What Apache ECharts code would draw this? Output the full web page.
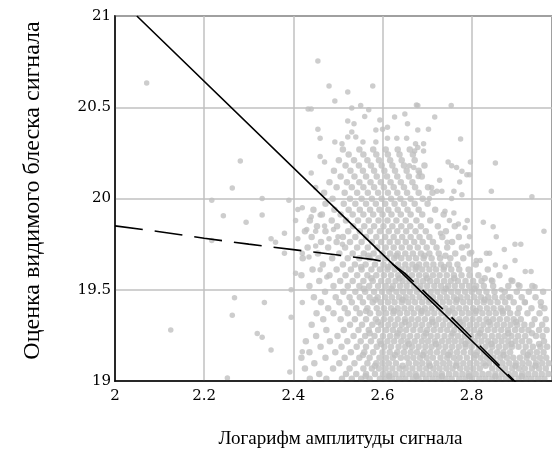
<!DOCTYPE html>
<html>
<head>
<meta charset="utf-8">
<script src="https://cdn.jsdelivr.net/npm/echarts@6/dist/echarts.min.js"></script>
<style>
  html, body { margin: 0; padding: 0; background: #fff; }
  #chart { width: 552px; height: 454px; }
</style>
</head>
<body>
<div id="chart"></div>
<script>
// x ticks / y ticks
const xTicks = [2, 2.2, 2.4, 2.6, 2.8]
const yTicks = [19, 19.5, 20, 20.5, 21]

// dense part of the cloud, read row by row (one y per row, x positions of dots)
const rowY = [19.012, 19.038, 19.069, 19.097, 19.128, 19.158, 19.187, 19.218, 19.247, 19.279,
  19.308, 19.339, 19.371, 19.398, 19.431, 19.459, 19.489, 19.521, 19.548, 19.579,
  19.611, 19.638, 19.672, 19.699, 19.731, 19.762, 19.789, 19.821, 19.848, 19.879,
  19.912, 19.938, 19.971, 19.998, 20.031, 20.062, 20.089, 20.121, 20.152, 20.181,
  20.209, 20.241, 20.268]
const rowX = [
  [2.437, 2.474, 2.509, 2.531, 2.552, 2.571, 2.594, 2.608, 2.622, 2.637, 2.651, 2.668, 2.681, 2.697, 2.712, 2.726, 2.741, 2.755, 2.772, 2.786, 2.801, 2.817, 2.831, 2.846, 2.861, 2.876, 2.889, 2.905, 2.921, 2.934, 2.949, 2.963],
  [2.458, 2.518, 2.541, 2.563, 2.583, 2.601, 2.615, 2.629, 2.645, 2.66, 2.674, 2.69, 2.705, 2.719, 2.733, 2.749, 2.764, 2.779, 2.793, 2.809, 2.824, 2.838, 2.853, 2.868, 2.883, 2.897, 2.913, 2.927, 2.942, 2.957, 2.972],
  [2.426, 2.489, 2.526, 2.557, 2.576, 2.592, 2.607, 2.622, 2.638, 2.652, 2.667, 2.683, 2.698, 2.714, 2.728, 2.743, 2.757, 2.774, 2.789, 2.803, 2.818, 2.846, 2.861, 2.875, 2.891, 2.906, 2.919, 2.935, 2.951, 2.966],
  [2.447, 2.503, 2.537, 2.566, 2.586, 2.6, 2.614, 2.63, 2.659, 2.675, 2.689, 2.704, 2.721, 2.736, 2.75, 2.766, 2.781, 2.796, 2.811, 2.826, 2.839, 2.855, 2.869, 2.884, 2.899, 2.914, 2.928, 2.944, 2.958, 2.973],
  [2.418, 2.472, 2.515, 2.548, 2.571, 2.593, 2.608, 2.623, 2.641, 2.655, 2.669, 2.684, 2.699, 2.713, 2.73, 2.745, 2.76, 2.773, 2.789, 2.805, 2.82, 2.834, 2.849, 2.864, 2.879, 2.893, 2.908, 2.923, 2.939, 2.953, 2.967],
  [2.436, 2.494, 2.529, 2.559, 2.579, 2.6, 2.616, 2.633, 2.648, 2.663, 2.677, 2.693, 2.707, 2.722, 2.737, 2.752, 2.767, 2.782, 2.798, 2.812, 2.827, 2.842, 2.857, 2.871, 2.886, 2.916, 2.931, 2.946, 2.961],
  [2.461, 2.508, 2.542, 2.563, 2.587, 2.604, 2.619, 2.636, 2.651, 2.666, 2.681, 2.696, 2.71, 2.726, 2.741, 2.756, 2.771, 2.786, 2.8, 2.816, 2.831, 2.846, 2.861, 2.876, 2.89, 2.905, 2.921, 2.937, 2.954, 2.969],
  [2.428, 2.482, 2.521, 2.551, 2.574, 2.594, 2.611, 2.626, 2.642, 2.656, 2.672, 2.688, 2.702, 2.717, 2.733, 2.748, 2.762, 2.777, 2.792, 2.807, 2.822, 2.837, 2.852, 2.867, 2.882, 2.898, 2.913, 2.929, 2.962],
  [2.451, 2.499, 2.535, 2.561, 2.582, 2.601, 2.617, 2.632, 2.647, 2.662, 2.678, 2.693, 2.708, 2.723, 2.739, 2.754, 2.769, 2.784, 2.799, 2.814, 2.829, 2.845, 2.86, 2.874, 2.889, 2.904, 2.92, 2.944, 2.959],
  [2.474, 2.513, 2.546, 2.569, 2.59, 2.608, 2.623, 2.639, 2.653, 2.669, 2.685, 2.7, 2.715, 2.73, 2.745, 2.761, 2.776, 2.791, 2.806, 2.821, 2.836, 2.851, 2.866, 2.881, 2.897, 2.912, 2.927, 2.951, 2.968],
  [2.441, 2.527, 2.554, 2.577, 2.597, 2.613, 2.628, 2.643, 2.659, 2.674, 2.689, 2.705, 2.72, 2.736, 2.751, 2.766, 2.781, 2.796, 2.811, 2.826, 2.842, 2.857, 2.872, 2.887, 2.902, 2.918, 2.935, 2.958],
  [2.467, 2.506, 2.538, 2.563, 2.585, 2.603, 2.618, 2.634, 2.65, 2.665, 2.68, 2.695, 2.711, 2.726, 2.741, 2.757, 2.772, 2.787, 2.802, 2.817, 2.833, 2.848, 2.863, 2.879, 2.894, 2.91, 2.941, 2.966],
  [2.452, 2.49, 2.522, 2.549, 2.572, 2.592, 2.608, 2.624, 2.639, 2.655, 2.67, 2.686, 2.701, 2.716, 2.732, 2.747, 2.762, 2.778, 2.793, 2.808, 2.824, 2.839, 2.854, 2.87, 2.886, 2.903, 2.925, 2.952],
  [2.478, 2.515, 2.541, 2.566, 2.587, 2.603, 2.619, 2.634, 2.649, 2.664, 2.68, 2.695, 2.71, 2.726, 2.741, 2.757, 2.772, 2.787, 2.803, 2.818, 2.834, 2.849, 2.865, 2.881, 2.906, 2.934, 2.963],
  [2.462, 2.503, 2.531, 2.556, 2.578, 2.596, 2.612, 2.627, 2.643, 2.658, 2.673, 2.689, 2.704, 2.719, 2.735, 2.75, 2.765, 2.781, 2.796, 2.812, 2.827, 2.842, 2.858, 2.875, 2.894, 2.919, 2.955],
  [2.446, 2.495, 2.526, 2.549, 2.571, 2.589, 2.606, 2.621, 2.637, 2.652, 2.667, 2.683, 2.698, 2.713, 2.729, 2.744, 2.76, 2.775, 2.79, 2.806, 2.821, 2.837, 2.852, 2.869, 2.886, 2.912, 2.943],
  [2.471, 2.512, 2.539, 2.561, 2.581, 2.599, 2.615, 2.631, 2.646, 2.661, 2.677, 2.692, 2.708, 2.723, 2.738, 2.754, 2.769, 2.785, 2.8, 2.816, 2.833, 2.851, 2.874, 2.901, 2.928, 2.96],
  [2.436, 2.49, 2.522, 2.548, 2.57, 2.59, 2.607, 2.623, 2.639, 2.654, 2.67, 2.685, 2.7, 2.716, 2.731, 2.747, 2.762, 2.778, 2.794, 2.81, 2.827, 2.848, 2.882, 2.907, 2.936],
  [2.458, 2.505, 2.533, 2.557, 2.578, 2.597, 2.613, 2.629, 2.645, 2.66, 2.676, 2.691, 2.707, 2.722, 2.738, 2.753, 2.769, 2.786, 2.803, 2.822, 2.846, 2.891],
  [2.418, 2.481, 2.517, 2.543, 2.566, 2.586, 2.603, 2.619, 2.635, 2.651, 2.666, 2.682, 2.697, 2.713, 2.728, 2.744, 2.76, 2.777, 2.795, 2.815, 2.862],
  [2.443, 2.497, 2.529, 2.553, 2.575, 2.594, 2.611, 2.627, 2.643, 2.658, 2.674, 2.689, 2.705, 2.72, 2.737, 2.754, 2.772, 2.793, 2.836],
  [2.466, 2.511, 2.538, 2.562, 2.583, 2.602, 2.619, 2.635, 2.651, 2.667, 2.682, 2.698, 2.714, 2.731, 2.749, 2.768, 2.809],
  [2.421, 2.487, 2.522, 2.548, 2.571, 2.591, 2.609, 2.626, 2.642, 2.659, 2.675, 2.692, 2.71, 2.729, 2.752, 2.781],
  [2.455, 2.503, 2.533, 2.558, 2.58, 2.6, 2.617, 2.634, 2.651, 2.668, 2.686, 2.705, 2.726, 2.763, 2.796],
  [2.432, 2.478, 2.516, 2.543, 2.567, 2.588, 2.607, 2.625, 2.643, 2.661, 2.679, 2.699, 2.721, 2.745, 2.778],
  [2.462, 2.497, 2.527, 2.553, 2.576, 2.597, 2.616, 2.634, 2.652, 2.671, 2.69, 2.713, 2.756],
  [2.441, 2.511, 2.539, 2.563, 2.586, 2.606, 2.625, 2.644, 2.663, 2.683, 2.705, 2.734, 2.771],
  [2.426, 2.472, 2.523, 2.549, 2.572, 2.594, 2.614, 2.633, 2.653, 2.674, 2.697, 2.742],
  [2.453, 2.498, 2.534, 2.559, 2.581, 2.602, 2.622, 2.642, 2.662, 2.686, 2.724, 2.762],
  [2.437, 2.486, 2.518, 2.545, 2.569, 2.591, 2.611, 2.631, 2.652, 2.676, 2.707],
  [2.464, 2.506, 2.533, 2.557, 2.579, 2.6, 2.62, 2.641, 2.663, 2.689, 2.737],
  [2.445, 2.492, 2.524, 2.549, 2.572, 2.593, 2.613, 2.634, 2.656, 2.681, 2.718],
  [2.472, 2.513, 2.539, 2.563, 2.585, 2.606, 2.627, 2.648, 2.672, 2.701],
  [2.488, 2.527, 2.553, 2.576, 2.598, 2.619, 2.64, 2.663, 2.69],
  [2.469, 2.515, 2.543, 2.567, 2.59, 2.612, 2.633, 2.655, 2.681, 2.712],
  [2.497, 2.531, 2.557, 2.581, 2.603, 2.625, 2.648, 2.673, 2.702],
  [2.481, 2.52, 2.548, 2.573, 2.596, 2.618, 2.641, 2.667],
  [2.506, 2.537, 2.563, 2.587, 2.61, 2.633, 2.659, 2.688],
  [2.491, 2.528, 2.556, 2.581, 2.604, 2.628, 2.654, 2.681],
  [2.517, 2.547, 2.574, 2.598, 2.622, 2.648, 2.694],
  [2.502, 2.536, 2.566, 2.592, 2.617, 2.643, 2.672],
  [2.524, 2.557, 2.586, 2.612, 2.638, 2.668],
  [2.511, 2.548, 2.579, 2.607, 2.634, 2.661]
]

// extra in-between dots of the densest patch (x 2.55-2.95, y 19-19.7), one y per row
const fillY = [19.026, 19.083, 19.143, 19.203, 19.262, 19.323, 19.384, 19.445, 19.505, 19.563, 19.624, 19.686]
const fillX = [
  [2.562, 2.615, 2.676, 2.733, 2.794, 2.853, 2.912],
  [2.583, 2.645, 2.706, 2.765, 2.831, 2.898, 2.943],
  [2.556, 2.628, 2.69, 2.748, 2.809, 2.871, 2.926],
  [2.597, 2.659, 2.72, 2.786, 2.844, 2.889, 2.951],
  [2.571, 2.634, 2.697, 2.757, 2.818, 2.882, 2.935],
  [2.59, 2.651, 2.712, 2.774, 2.838, 2.899],
  [2.563, 2.626, 2.688, 2.749, 2.81, 2.869],
  [2.584, 2.645, 2.706, 2.767, 2.829],
  [2.558, 2.62, 2.681, 2.742, 2.806],
  [2.575, 2.638, 2.7, 2.761, 2.829],
  [2.552, 2.613, 2.676, 2.738],
  [2.568, 2.631, 2.694, 2.741]
]

// scattered dots outside the dense part
const sparsePoints = [
  [2.071, 20.633], [2.125, 19.28], [2.252, 19.017], [2.268, 19.456], [2.263, 19.36], [2.319, 19.26],
  [2.281, 20.206], [2.263, 20.058], [2.217, 19.99], [2.243, 19.905], [2.294, 19.87], [2.217, 19.77],
  [2.335, 19.43], [2.33, 19.24], [2.35, 19.17], [2.395, 19.35], [2.42, 19.16], [2.392, 19.05],
  [2.33, 20.0], [2.33, 19.91], [2.35, 19.78], [2.36, 19.76], [2.38, 19.81], [2.38, 19.7],
  [2.39, 19.99], [2.405, 19.88], [2.42, 19.95], [2.41, 19.78], [2.405, 19.59], [2.46, 19.61],
  [2.435, 19.68], [2.475, 19.57], [2.42, 19.43], [2.395, 19.5],
  [2.41, 19.94], [2.44, 19.9], [2.46, 19.91], [2.43, 19.83], [2.45, 19.82], [2.47, 19.85],
  [2.49, 19.83], [2.48, 19.78], [2.5, 19.79], [2.51, 19.75], [2.45, 19.74], [2.42, 19.7],
  [2.44, 20.14], [2.46, 20.23], [2.47, 20.2], [2.45, 20.06],
  [2.455, 20.754], [2.48, 20.617], [2.522, 20.584], [2.578, 20.617], [2.493, 20.534], [2.433, 20.49],
  [2.44, 20.49], [2.551, 20.51], [2.531, 20.496], [2.569, 20.486], [2.56, 20.45], [2.522, 20.425],
  [2.536, 20.41], [2.594, 20.43], [2.627, 20.447], [2.65, 20.463], [2.676, 20.513], [2.455, 20.38],
  [2.46, 20.33], [2.531, 20.365], [2.54, 20.337], [2.522, 20.337], [2.585, 20.376], [2.6, 20.38],
  [2.611, 20.39], [2.611, 20.33], [2.632, 20.33], [2.654, 20.33], [2.656, 20.41], [2.556, 20.31],
  [2.585, 20.31], [2.493, 20.31], [2.509, 20.3], [2.674, 20.3], [2.679, 20.51], [2.754, 20.51],
  [2.717, 20.447], [2.679, 20.376], [2.703, 20.38], [2.775, 20.326], [2.692, 20.3], [2.692, 20.26],
  [2.679, 20.28],
  [2.672, 20.26], [2.66, 20.18], [2.67, 20.17], [2.683, 20.14], [2.68, 20.12], [2.747, 20.2],
  [2.755, 20.18], [2.766, 20.17], [2.778, 20.15], [2.789, 20.13], [2.797, 20.2], [2.795, 20.13],
  [2.728, 20.1], [2.773, 20.09], [2.71, 20.06], [2.722, 20.04], [2.733, 20.04], [2.76, 20.04],
  [2.778, 20.02], [2.705, 20.0], [2.755, 20.0],
  [2.74, 19.93], [2.76, 19.92], [2.79, 19.88], [2.77, 19.86], [2.75, 19.88], [2.785, 19.84],
  [2.73, 19.81], [2.795, 19.79], [2.745, 19.76], [2.79, 19.74], [2.8, 19.705],
  [2.853, 20.195], [2.844, 20.04], [2.935, 20.01], [2.826, 19.87], [2.848, 19.845], [2.962, 19.82],
  [2.855, 19.79], [2.897, 19.75], [2.91, 19.75], [2.873, 19.72], [2.833, 19.7], [2.84, 19.7],
  [2.819, 19.66], [2.897, 19.66], [2.853, 19.636], [2.875, 19.625], [2.92, 19.6], [2.933, 19.6],
  [2.844, 19.554], [2.888, 19.554], [2.904, 19.527], [2.942, 19.516], [2.866, 19.5], [2.882, 19.46],
  [2.92, 19.43], [2.955, 19.41], [2.81, 19.66]
]

// solid regression line and dashed curve
const solidLine = [[2.049, 21], [2.62, 19.647], [2.893, 19]]
const dashedLine = [[2.0, 19.85], [2.1, 19.818], [2.2, 19.782], [2.3, 19.75], [2.4, 19.72], [2.5, 19.69],
  [2.58, 19.665], [2.62, 19.645], [2.65, 19.59], [2.7, 19.475], [2.75, 19.36], [2.8, 19.238],
  [2.85, 19.115], [2.9, 18.99]]

let denseCloud = []
rowY.forEach((y, i) => {
  rowX[i].forEach(x => denseCloud.push([x, y]))
})
fillY.forEach((y, i) => {
  fillX[i].forEach(x => denseCloud.push([x, y]))
})

const serif = 'DejaVu Serif'
const option = {
  animation: false,
  grid: {
    left: 115,
    top: 16,
    right: -2,
    bottom: 73,
    show: true,
    borderColor: '#000',
    borderWidth: 1.5
  },
  xAxis: {
    type: 'value',
    min: xTicks[0],
    max: 2.98,
    interval: 0.2,
    z: 3,
    name: 'Логарифм амплитуды сигнала',
    nameLocation: 'middle',
    nameGap: 49,
    nameTextStyle: { fontFamily: 'Liberation Serif', fontSize: 19, color: '#000', padding: [0, 0, 0, 14] },
    axisLine: { show: true, lineStyle: { color: '#000', width: 1.5 } },
    axisTick: { show: false },
    axisLabel: {
      showMaxLabel: false,
      margin: 8,
      fontFamily: serif,
      fontSize: 15,
      color: '#000'
    },
    splitLine: { show: true, lineStyle: { color: '#c0c0c0', width: 1.5 } }
  },
  yAxis: {
    type: 'value',
    min: yTicks[0],
    max: yTicks[yTicks.length - 1],
    interval: 0.5,
    z: 3,
    name: 'Оценка видимого блеска сигнала',
    nameLocation: 'middle',
    nameRotate: 90,
    nameGap: 70,
    nameTextStyle: { fontFamily: 'Liberation Serif', fontSize: 24, color: '#000', padding: [0, 0, 0, 16] },
    axisLine: { show: true, lineStyle: { color: '#000', width: 1.5 } },
    axisTick: { show: false },
    axisLabel: {
      margin: 4,
      fontFamily: serif,
      fontSize: 15,
      color: '#000'
    },
    splitLine: { show: true, lineStyle: { color: '#c0c0c0', width: 1.5 } }
  },
  series: [
    {
      type: 'scatter',
      data: denseCloud,
      symbol: 'circle',
      symbolSize: 6.5,
      itemStyle: { color: '#c0c0c0' },
      z: 2
    },
    {
      type: 'scatter',
      data: sparsePoints,
      symbol: 'circle',
      symbolSize: 5.5,
      itemStyle: { color: '#c0c0c0' },
      z: 2
    },
    {
      type: 'line',
      data: solidLine,
      symbol: 'none',
      lineStyle: { color: '#000', width: 1.6 },
      z: 5
    },
    {
      type: 'line',
      data: dashedLine,
      symbol: 'none',
      lineStyle: { color: '#000', width: 1.6, type: [28, 12] },
      z: 5
    }
  ]
}

const chart = echarts.init(document.getElementById('chart'))
chart.setOption(option)
</script>
</body>
</html>
